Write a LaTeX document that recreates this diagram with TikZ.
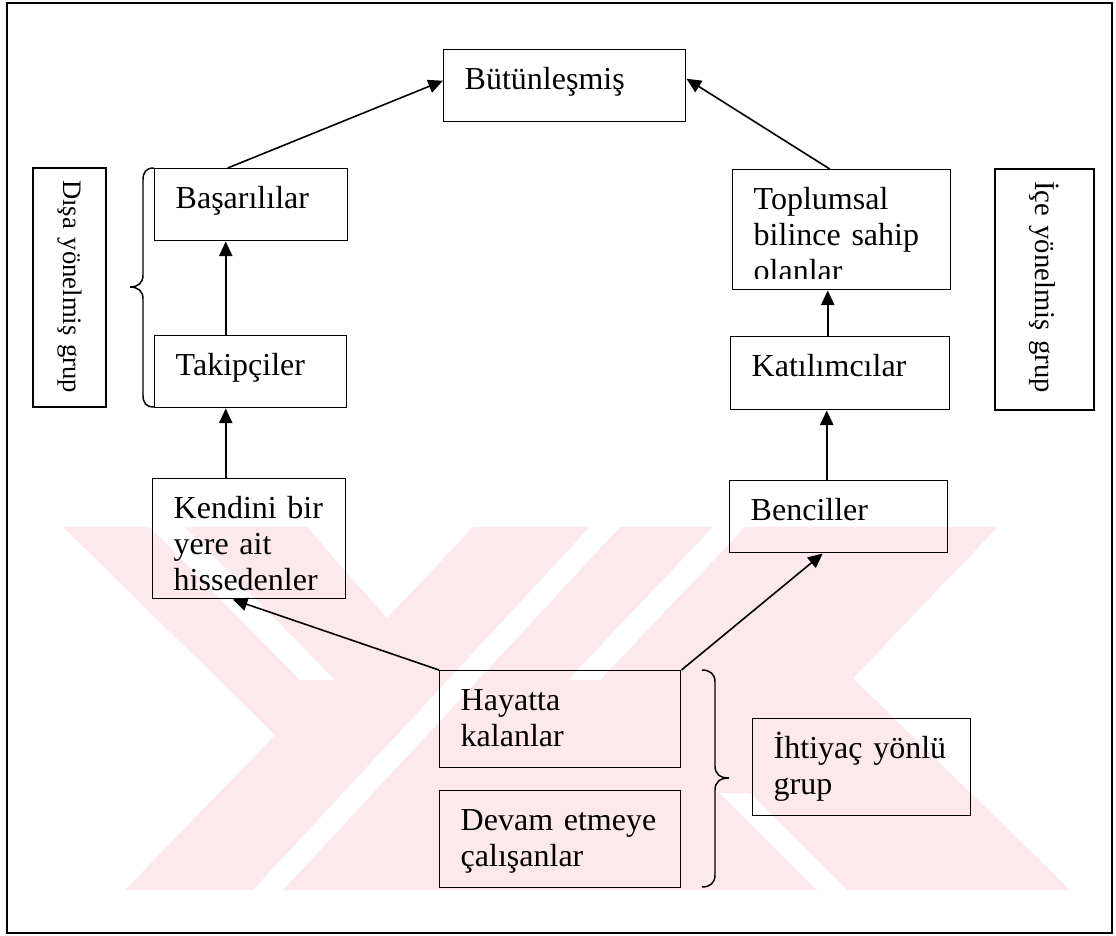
\documentclass[tikz,border=0pt]{standalone}
\usepackage{fontspec}
\setmainfont{Liberation Serif}
\usetikzlibrary{arrows.meta,calc}
\definecolor{filigran}{RGB}{253,233,236}

\begin{document}
\begin{tikzpicture}[x=0.75pt,y=0.75pt,yscale=-1,xscale=1,
    kutu/.style={draw, line width=1.1pt, anchor=north west, inner xsep=15.75pt, inner ysep=0pt, text height=30pt, align=left, font=\fontsize{24}{27}\selectfont},
    yankutu/.style={draw, line width=1.1pt, rotate=-90, inner xsep=9pt, inner ysep=0pt, align=left},
    ok/.style={line width=1.2pt, -{Triangle[length=11pt,width=10pt]}},
    parantez/.style={line width=1.1pt}]
        \useasboundingbox (0,0) rectangle (1116,935);

        %Shape: Watermark
        \fill[filigran] (63,527) -- (998,527) -- (853,678) -- (1070,890) -- (125,890) -- (275,735) -- cycle ;
        \fill[white] (307,527) -- (387,618) -- (473,527) -- cycle ;
        \fill[white] (150,527) -- (185,527) -- (335,680) -- (300,680) -- cycle ;
        \fill[white] (590,527) -- (620,527) -- (283,890) -- (253,890) -- cycle ;
        \fill[white] (713,527) -- (745,527) -- (600,680) -- (568,680) -- cycle ;
        \fill[white] (720,793) -- (750,793) -- (847,890) -- (817,890) -- cycle ;

        %Shape: Rectangle (frame)
        \draw[line width=1.2pt] (7,3) rectangle (1112,933) ;

        % Text Node
        \node[kutu, text width=150pt, text depth=24pt] (butun) at (443,49) {Bütünleşmiş};
        % Text Node
        \node[kutu, text width=113.25pt, text depth=24pt] (basari) at (154,168) {Başarılılar};
        % Text Node
        \node[kutu, text width=112.5pt, text depth=24pt] (takip) at (154,335) {Takipçiler};
        % Text Node
        \node[kutu, text width=113.25pt, text depth=60pt] (kendini) at (152,478) {Kendini bir\\yere ait\\hissedenler};
        % Text Node
        \node[kutu, text width=132pt, text depth=60pt] (toplum) at (732,169) {Toplumsal\\bilince sahip\\olanlar};
        \fill[white] ($(toplum.south west)+(1,-1)$) rectangle ($(toplum.south east)+(-1,-11)$) ;
        % Text Node
        \node[kutu, text width=132.75pt, text depth=24.75pt] (katilim) at (730,336) {Katılımcılar};
        % Text Node
        \node[kutu, text width=132pt, text depth=24pt] (bencil) at (729,480) {Benciller};
        % Text Node
        \node[kutu, text width=149.25pt, text depth=42.75pt] (hayat) at (439,670) {Hayatta\\kalanlar};
        % Text Node
        \node[kutu, text width=149.25pt, text depth=42.75pt] (devam) at (439,790) {Devam etmeye\\çalışanlar};
        % Text Node
        \node[kutu, text width=132pt, text depth=42.75pt] (ihtiyac) at (752,718) {İhtiyaç yönlü\\grup};
        % Text Node
        \node[yankutu, font=\fontsize{20}{24}\selectfont, minimum width=179.25pt, minimum height=54.75pt, text width=161.25pt] (disa) at (69.5,287.5) {Dışa yönelmiş grup};
        % Text Node
        \node[yankutu, font=\fontsize{21.5}{25}\selectfont, minimum width=180.75pt, minimum height=74.25pt, text width=162.75pt] (ice) at (1044.5,289.5) {İçe yönelmiş grup};

        %Straight Lines
        \draw[ok] ($(basari.north)+(-23.5,0)$) -- ($(butun.west)+(0,-5)$) ;
        \draw[ok] ($(toplum.north)+(-12,0)$) -- ($(butun.east)+(0,-7)$) ;
        \draw[ok] ($(takip.north)+(-25,0)$) -- ($(basari.south)+(-25.5,0)$) ;
        \draw[ok] ($(kendini.north)+(-23.5,0)$) -- ($(takip.south)+(-25,0)$) ;
        \draw[ok] ($(katilim.north)+(-12.5,0)$) -- ($(toplum.south)+(-14,0)$) ;
        \draw[ok] ($(bencil.north)+(-12,0)$) -- ($(katilim.south)+(-13.5,0)$) ;
        \draw[ok] (hayat.north west) -- ($(kendini.south)+(-16.5,0)$) ;
        \draw[ok] (hayat.north east) -- ($(bencil.south)+(-16,0)$) ;

        %Curve Lines (braces)
        \draw[parantez] (154,168) .. controls (146,168) and (143,172) .. (143,180) -- (143,275) .. controls (143,283) and (138,287) .. (130,287) .. controls (138,287) and (143,291) .. (143,299) -- (143,395) .. controls (143,403) and (146,407) .. (154,407) ;
        \draw[parantez] (702,670) .. controls (710,670) and (715,674) .. (715,682) -- (715,766) .. controls (715,774) and (720,778) .. (729,778) .. controls (720,778) and (715,782) .. (715,790) -- (715,875) .. controls (715,883) and (710,887) .. (702,887) ;
\end{tikzpicture}
\end{document}
